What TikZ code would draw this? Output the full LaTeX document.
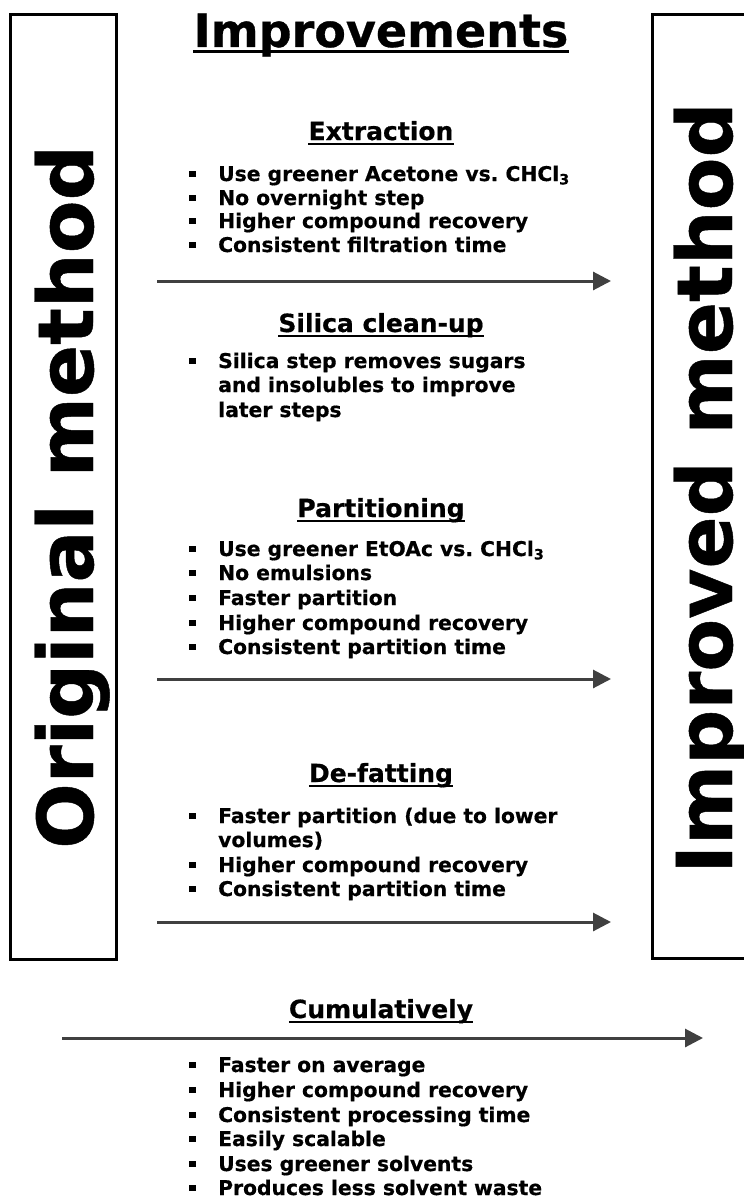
\documentclass[tikz,border=0pt]{standalone}
\usepackage{fontspec}
\setmainfont{DejaVu Sans}[BoldFont={DejaVu Sans Bold}, BoldFeatures={FakeBold=0.6}]
\usepackage{xcolor}
\usepackage{tikz}
\usetikzlibrary{arrows.meta}
\definecolor{arrowGrey}{HTML}{404040}

\tikzset{
  title/.style={font=\fontsize{46}{50}\selectfont\bfseries, inner sep=0pt, anchor=base},
  head/.style={font=\fontsize{25}{28}\selectfont\bfseries, inner sep=0pt, anchor=base},
  itemtxt/.style={font=\fontsize{20.3}{24}\selectfont\bfseries, inner sep=0pt, anchor=base west},
  side/.style={font=\fontsize{77}{80}\selectfont\bfseries, inner sep=0pt, anchor=base, rotate=90},
  stage/.style={arrowGrey, line width=3pt, -{Triangle[length=18pt,width=18pt]}},
}
\newcommand{\bul}[1]{\fill (189,#1-10.5) rectangle ++(6.5,6.5);}
\newcommand{\uline}[3]{\draw[line width=#2] ([yshift=-#3]#1.base west) -- ([yshift=-#3]#1.base east);}

\begin{document}
\begin{tikzpicture}[x=1pt, y=-1pt]
  \useasboundingbox (0,0) rectangle (744,1199);
  \clip (0,0) rectangle (744,1199);

  % side boxes
  \draw[line width=3pt] (10,15) rectangle (116,959);
  \draw[line width=3pt] (652,15) rectangle (780,958);
  \node[side] (orig) at (93,497) {Original method};
  \node[side] (impr) at (732,488) {Improved method};

  % title
  \node[title] (ttl) at (381,47) {Improvements};
  \uline{ttl}{3pt}{4.5pt}

  % extraction
  \node[head] (extr) at (381,140) {Extraction};
  \uline{extr}{2pt}{3.5pt}
  \node[itemtxt] (extr1) at (218,181) {Use greener Acetone vs.\ CHCl\textsubscript{3}};
  \node[itemtxt] (extr2) at (218,205) {No overnight step};
  \node[itemtxt] (extr3) at (218,228) {Higher compound recovery};
  \node[itemtxt] (extr4) at (218,252) {Consistent filtration time};
  \bul{181} \bul{205} \bul{228} \bul{252}
  \coordinate (a1s) at (157,281);
  \coordinate (a1e) at (611,281);
  \draw[stage] (a1s) -- (a1e);

  % silica
  \node[head] (silc) at (381,332) {Silica clean-up};
  \uline{silc}{2pt}{3.5pt}
  \node[itemtxt] (silc1) at (218,368) {Silica step removes sugars};
  \node[itemtxt] (silc2) at (218,392) {and insolubles to improve};
  \node[itemtxt] (silc3) at (218,417) {later steps};
  \bul{368}

  % partitioning
  \node[head] (part) at (381,517) {Partitioning};
  \uline{part}{2pt}{3.5pt}
  \node[itemtxt] (part1) at (218,556) {Use greener EtOAc vs.\ CHCl\textsubscript{3}};
  \node[itemtxt] (part2) at (218,580) {No emulsions};
  \node[itemtxt] (part3) at (218,605) {Faster partition};
  \node[itemtxt] (part4) at (218,630) {Higher compound recovery};
  \node[itemtxt] (part5) at (218,654) {Consistent partition time};
  \bul{556} \bul{580} \bul{605} \bul{630} \bul{654}
  \coordinate (a2s) at (157,679);
  \coordinate (a2e) at (611,679);
  \draw[stage] (a2s) -- (a2e);

  % de-fatting
  \node[head] (defat) at (381,782) {De-fatting};
  \uline{defat}{2pt}{3.5pt}
  \node[itemtxt] (defat1) at (218,823) {Faster partition (due to lower};
  \node[itemtxt] (defat2) at (218,847) {volumes)};
  \node[itemtxt] (defat3) at (218,872) {Higher compound recovery};
  \node[itemtxt] (defat4) at (218,896) {Consistent partition time};
  \bul{823} \bul{872} \bul{896}
  \coordinate (a3s) at (157,922);
  \coordinate (a3e) at (611,922);
  \draw[stage] (a3s) -- (a3e);

  % cumulatively
  \node[head] (cumu) at (381,1018) {Cumulatively};
  \uline{cumu}{2pt}{3.5pt}
  \coordinate (a4s) at (62,1038);
  \coordinate (a4e) at (703,1038);
  \draw[stage] (a4s) -- (a4e);
  \node[itemtxt] (cumu1) at (218,1072) {Faster on average};
  \node[itemtxt] (cumu2) at (218,1097) {Higher compound recovery};
  \node[itemtxt] (cumu3) at (218,1122) {Consistent processing time};
  \node[itemtxt] (cumu4) at (218,1146) {Easily scalable};
  \node[itemtxt] (cumu5) at (218,1171) {Uses greener solvents};
  \node[itemtxt] (cumu6) at (218,1195) {Produces less solvent waste};
  \bul{1072} \bul{1097} \bul{1122} \bul{1146} \bul{1171} \bul{1195}
\end{tikzpicture}
\end{document}
